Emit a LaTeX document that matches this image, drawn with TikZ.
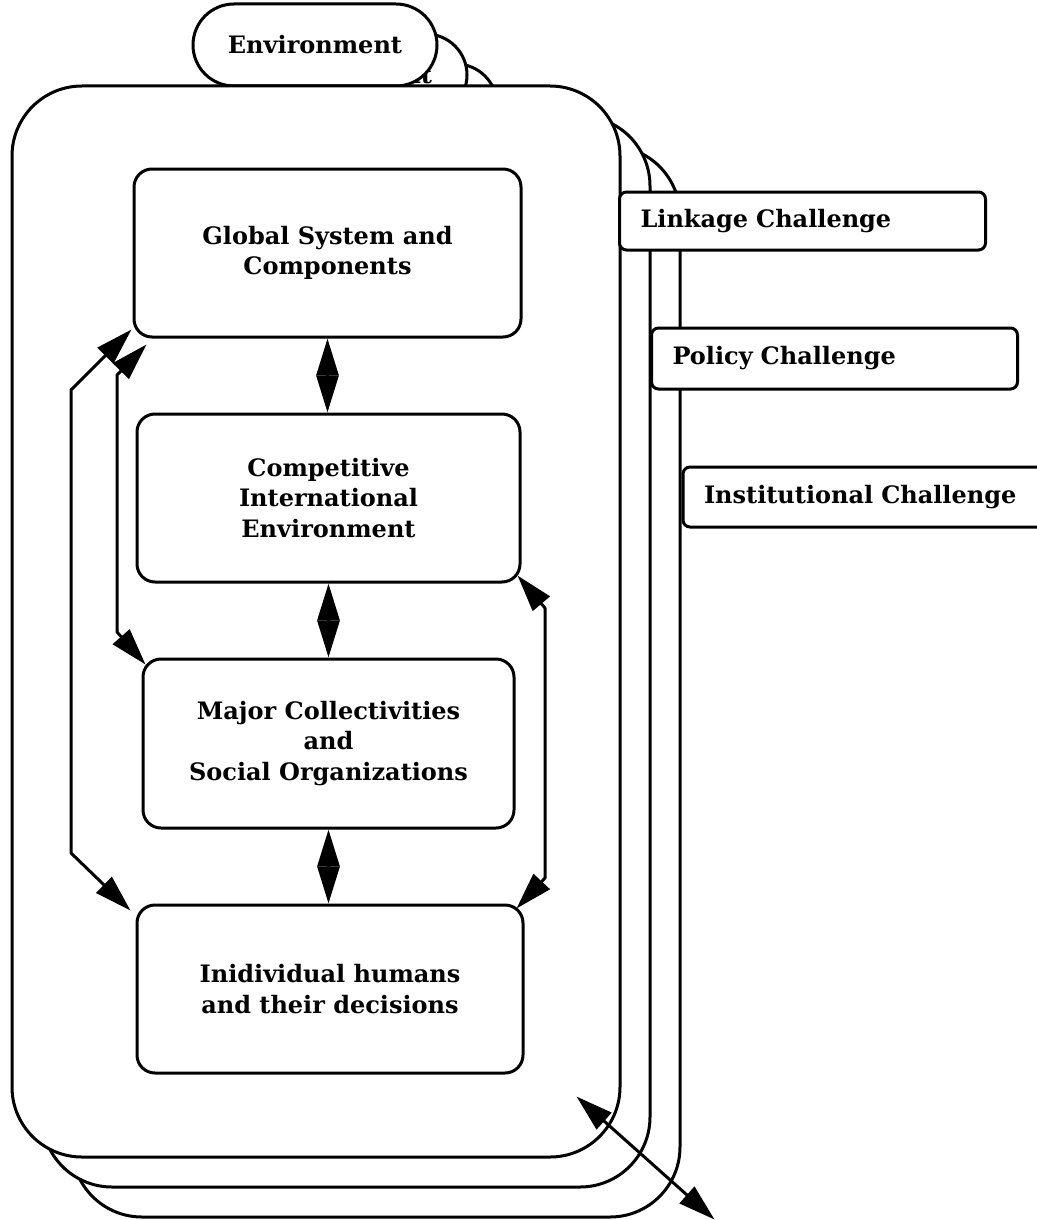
\documentclass[tikz,border=0pt]{standalone}
\usepackage{fontspec}
\setmainfont{DejaVu Serif}
\usetikzlibrary{arrows.meta}
\begin{document}
\begin{tikzpicture}[x=0.5pt,y=-0.5pt,line width=1.5pt,
  every node/.style={font=\fontsize{12}{15.25}\selectfont\bfseries},
  envbox/.style={draw,fill=white,rounded corners=20.5pt,minimum width=122pt,minimum height=41pt,inner sep=0pt},
  layerbox/.style={draw,fill=white,rounded corners=35pt,minimum width=304pt,minimum height=535.5pt,inner sep=0pt},
  levelbox/.style={draw,fill=white,rounded corners=9pt,align=center,inner sep=0pt},
  chalbox/.style={draw,fill=white,rounded corners=3.5pt,align=left,inner xsep=10.5pt,inner ysep=0pt,text width=162pt},
  link/.style={{Triangle[length=18.5pt,width=11pt]}-{Triangle[length=18.5pt,width=11pt]},line join=round},
]
% page area
\fill[white] (0,0) rectangle (1037,1220);
\useasboundingbox (0,0) rectangle (1037,1220);

% three stacked layers: environment tab on top of a large frame
\node[envbox] (envB) at (375,105) {Environment};
\node[layerbox] (layerB) at (376,681.5) {};
\node[envbox] (envA) at (345,75) {Environment};
\node[layerbox] (layerA) at (346,651.5) {};
\node[envbox] (env) at (315,45) {Environment};
\node[layerbox] (layer) at (316,621.5) {};

% levels of analysis
\node[levelbox,minimum width=193.5pt,minimum height=84pt] (glob) at (327.5,253)
  {Global System and\\Components};
\node[levelbox,minimum width=191.5pt,minimum height=84pt] (comp) at (328.5,498)
  {Competitive\\International\\Environment};
\node[levelbox,minimum width=185.5pt,minimum height=84.5pt] (major) at (328.5,743.5)
  {Major Collectivities\\and\\Social Organizations};
\node[levelbox,minimum width=193pt,minimum height=84pt] (indiv) at (330,989)
  {Inidividual humans\\and their decisions};

% links between adjacent levels
\draw[link] (glob.south) -- (glob.south |- comp.north);
\draw[link] (comp.south) -- (comp.south |- major.north);
\draw[link] (major.south) -- (major.south |- indiv.north);

% links that skip a level
\coordinate (oTop) at ([shift={(-1,-9)}]glob.south west);
\coordinate (oBot) at ([shift={(-5,7)}]indiv.north west);
\draw[link] (oTop) -- (71,390) -- (71,853) -- (oBot);

\coordinate (iTop) at ([shift={(14,6)}]glob.south west);
\coordinate (iBot) at ([shift={(4,7)}]major.north west);
\draw[link] (iTop) -- (117,375) -- (117,632) -- (iBot);

\coordinate (rTop) at ([shift={(-4,-8)}]comp.south east);
\coordinate (rBot) at ([shift={(-8,5)}]indiv.north east);
\draw[link] (rTop) -- (545,608) -- (545,878) -- (rBot);

% challenges attached to the layers
\node[chalbox,minimum height=29pt] (linkage) at (802.5,221) {Linkage Challenge};
\node[chalbox,minimum height=30.5pt] (policy) at (834.5,358.5) {Policy Challenge};
\node[chalbox,minimum height=30pt,text width=170pt] (inst) at (874,497) {Institutional Challenge};

% link out of the frame
\coordinate (outA) at ([shift={(-45,-62)}]layer.south east);
\coordinate (outB) at ([shift={(93,61)}]layer.south east);
\draw[link] (outA) -- (outB);
\end{tikzpicture}
\end{document}
